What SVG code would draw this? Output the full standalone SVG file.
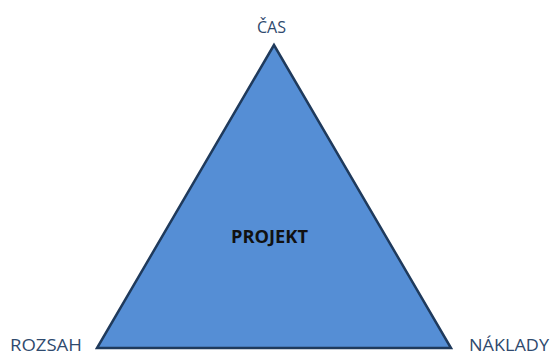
<svg xmlns="http://www.w3.org/2000/svg" width="552" height="356" viewBox="0 0 552 356">
  <style>
    .corner { font-family: "Open Sans", "Liberation Sans", sans-serif; font-size: 17px; fill: #2F4A6E; }
    .title { font-family: "Open Sans", "Liberation Sans", sans-serif; font-size: 18px; font-weight: bold; fill: #111111; }
    .tri { fill: #558ED5; stroke: #1F3A5C; stroke-width: 2.5; stroke-linejoin: miter; }
  </style>
  <rect width="552" height="356" fill="#FFFFFF"/>
  <g id="projekt">
    <polygon class="tri" points="274,45 97,348 451,348"/>
    <text class="title" x="231" y="243" textLength="77" lengthAdjust="spacingAndGlyphs">PROJEKT</text>
  </g>
  <g id="cas">
    <text class="corner" x="257" y="33" textLength="29" lengthAdjust="spacingAndGlyphs">ČAS</text>
  </g>
  <g id="rozsah">
    <text class="corner" x="10" y="351" textLength="72" lengthAdjust="spacingAndGlyphs">ROZSAH</text>
  </g>
  <g id="naklady">
    <text class="corner" x="469" y="351" textLength="80" lengthAdjust="spacingAndGlyphs">NÁKLADY</text>
  </g>
  <g id="connectors"/>
</svg>
